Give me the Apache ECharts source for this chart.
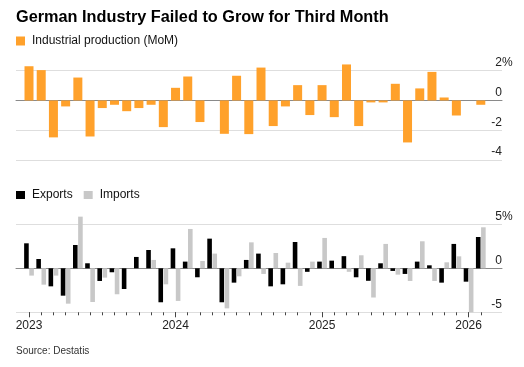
<!DOCTYPE html>
<html><head><meta charset="utf-8">
<script src="https://cdn.jsdelivr.net/npm/echarts@6/dist/echarts.min.js"></script>
<style>html,body{margin:0;padding:0;background:#fff}#c{width:524px;height:367px}</style>
</head><body><div id="c"></div>
<script>
// ---- data ----
const months = [
  '2023-01','2023-02','2023-03','2023-04','2023-05','2023-06','2023-07','2023-08','2023-09','2023-10','2023-11','2023-12',
  '2024-01','2024-02','2024-03','2024-04','2024-05','2024-06','2024-07','2024-08','2024-09','2024-10','2024-11','2024-12',
  '2025-01','2025-02','2025-03','2025-04','2025-05','2025-06','2025-07','2025-08','2025-09','2025-10','2025-11','2025-12',
  '2026-01','2026-02'
];
const production = [
  2.30, 2.04, -2.48, -0.40, 1.54, -2.42, -0.51, -0.29, -0.72, -0.51, -0.29, -1.79,
  0.85, 1.61, -1.45, 0.00, -2.24, 1.66, -2.26, 2.21, -1.72, -0.40, 1.03, -0.98,
  1.03, -1.12, 2.42, -1.72, -0.13, -0.13, 1.12, -2.82, 0.81, 1.92, 0.20, -1.01,
  0.00, -0.29
];
const exportsMoM = [
  2.84, 1.06, -2.05, -3.11, 2.65, 0.57, -1.44, -0.45, -2.35, 1.29, 2.08, -3.86,
  2.27, 0.76, -1.02, 3.37, -3.86, -1.63, 0.95, 1.67, -2.05, -1.82, 2.99, -0.40,
  0.76, 0.87, 1.38, -1.02, -1.42, 0.57, -0.30, -0.64, 0.76, 0.34, -1.63, 2.77,
  -1.52, 3.56
];
const importsMoM = [
  -0.83, -1.86, -0.83, -4.02, 5.87, -3.83, -1.06, -2.95, 0.00, 0.00, 0.95, -1.82,
  -3.71, 4.47, 0.83, 1.67, -4.55, -0.91, 2.95, -0.64, 1.74, 0.64, -2.00, 0.76,
  3.45, 0.00, -0.40, 1.48, -3.32, 2.77, -0.72, -1.44, 3.07, -1.44, 0.68, 1.36,
  -5.00, 4.66
];
const prodAxis = {min: -4, max: 2, step: 2};
const tradeAxis = {min: -5, max: 5, step: 5};
const titleText = 'German Industry Failed to Grow for Third Month';
const sourceText = 'Source: Destatis';
const prodName = 'Industrial production (MoM)';
const expName = 'Exports';
const impName = 'Imports';

// ---- chart ----
const FONT = "'Liberation Sans', Arial, Helvetica, sans-serif";
const chart = echarts.init(document.getElementById('c'), null, {renderer: 'canvas'});
const isJan = (i) => months[i].slice(5) === '01';
const gridW = {left: 16, width: 486, outerBoundsMode: 'none'};
const gridN = {left: 22.9, width: 464, outerBoundsMode: 'none'};
const topY = {top: 70.7, height: 89.3};
const botY = {top: 224.3, height: 88};

function zeroXAxis(gi) {
  return {gridIndex: gi, type: 'value', min: 0, max: 1, position: 'bottom',
    axisLine: {show: true, onZero: true, lineStyle: {color: '#8a8a8a', width: 1}},
    axisTick: {show: false}, axisLabel: {show: false}, splitLine: {show: false}};
}
function labelYAxis(gi, ax) {
  return {gridIndex: gi, type: 'value', min: ax.min, max: ax.max, interval: ax.step, position: 'right',
    axisLine: {show: false}, axisTick: {show: false},
    splitLine: {show: true, lineStyle: {color: '#dedede', width: 1}},
    axisLabel: {align: 'right', verticalAlign: 'bottom', margin: 0, padding: [0, 0, 2, 0],
      fontFamily: FONT, fontSize: 12, color: '#222', formatter: (v) => String(v)}};
}
function pctYAxis(gi, ax) {
  return {gridIndex: gi, type: 'value', min: ax.min, max: ax.max, interval: ax.step, position: 'right',
    axisLine: {show: false}, axisTick: {show: false}, splitLine: {show: false},
    axisLabel: {align: 'left', verticalAlign: 'bottom', margin: 0, padding: [0, 0, 2, 0],
      fontFamily: FONT, fontSize: 12, color: '#222', formatter: (v) => (v === ax.max ? '%' : '')}};
}
function hiddenYAxis(gi, ax) {
  return {gridIndex: gi, type: 'value', min: ax.min, max: ax.max, show: false, splitLine: {show: false}};
}

const option = {
  animation: false,
  backgroundColor: '#fff',
  textStyle: {fontFamily: FONT},
  title: [
    {text: titleText, left: 16, top: 10, padding: 0,
      textStyle: {fontFamily: FONT, fontSize: 16.3, fontWeight: 'bold', color: '#000'}},
    {text: sourceText, left: 16, top: 346, padding: 0,
      textStyle: {fontFamily: FONT, fontSize: 10, fontWeight: 'normal', color: '#333'}}
  ],
  legend: [
    {data: [prodName], left: 16, top: 35, padding: 0, icon: 'rect', itemWidth: 9, itemHeight: 9,
      textStyle: {fontFamily: FONT, fontSize: 12, color: '#111', padding: [0, 0, 0, 2]}},
    {data: [expName, impName], left: 16, top: 189, padding: 0, icon: 'rect', itemWidth: 9, itemHeight: 8, itemGap: 11,
      textStyle: {fontFamily: FONT, fontSize: 12, color: '#111', padding: [0, 0, 0, 2]}}
  ],
  grid: [
    Object.assign({}, gridW, topY),
    Object.assign({}, gridN, topY),
    Object.assign({}, gridW, botY),
    Object.assign({}, gridN, botY)
  ],
  xAxis: [
    zeroXAxis(0),
    {gridIndex: 1, type: 'category', data: months, show: false, position: 'bottom'},
    zeroXAxis(2),
    {gridIndex: 3, type: 'category', data: months, position: 'bottom',
      axisLine: {show: false, onZero: false},
      axisTick: {show: true, alignWithLabel: true, interval: 0, length: 3, lineStyle: {color: '#444'}},
      axisLabel: {show: false}, splitLine: {show: false}},
    {gridIndex: 3, type: 'category', data: months, position: 'bottom',
      axisLine: {show: false, onZero: false},
      axisTick: {show: true, alignWithLabel: true, length: 5, interval: (i) => isJan(i), lineStyle: {color: '#444'}},
      axisLabel: {show: true, interval: (i) => isJan(i), margin: 7, fontFamily: FONT, fontSize: 12, color: '#222',
        formatter: (v) => v.slice(0, 4)},
      splitLine: {show: false}}
  ],
  yAxis: [
    labelYAxis(0, prodAxis), pctYAxis(0, prodAxis), hiddenYAxis(1, prodAxis),
    labelYAxis(2, tradeAxis), pctYAxis(2, tradeAxis), hiddenYAxis(3, tradeAxis)
  ],
  series: [
    {type: 'bar', name: prodName, xAxisIndex: 1, yAxisIndex: 2, data: production, barWidth: 9, clip: false,
      itemStyle: {color: '#ffa12b'}},
    {type: 'bar', name: expName, xAxisIndex: 3, yAxisIndex: 5, data: exportsMoM, barWidth: 4.6, barGap: '12%', clip: false,
      itemStyle: {color: '#000000'}},
    {type: 'bar', name: impName, xAxisIndex: 3, yAxisIndex: 5, data: importsMoM, barWidth: 4.6, barGap: '12%', clip: false,
      itemStyle: {color: '#c8c8c8'}}
  ]
};
chart.setOption(option);
</script>
</body></html>
